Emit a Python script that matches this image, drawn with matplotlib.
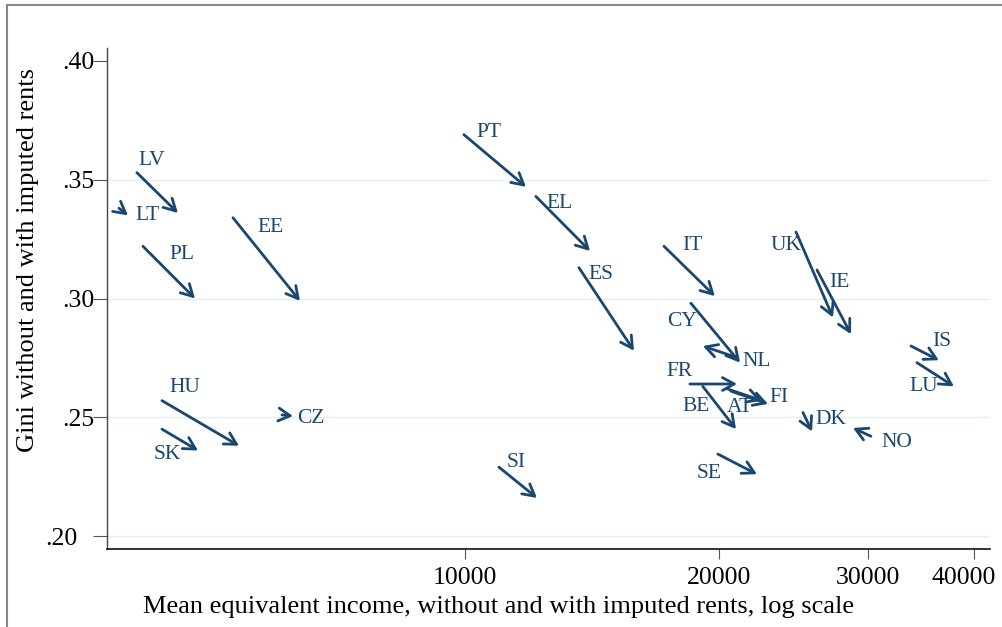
import numpy as np
import matplotlib
matplotlib.use("Agg")
import matplotlib.pyplot as plt
from matplotlib.lines import Line2D
from matplotlib.transforms import ScaledTranslation

plt.rcParams['font.family'] = ['Liberation Serif', 'DejaVu Serif']

# country codes, income (no rents -> with rents), gini (no rents -> with rents)
countries = ["LV", "LT", "PL", "EE", "HU", "SK", "CZ", "PT", "EL", "ES", "SI",
             "IT", "UK", "IE", "CY", "NL", "FR", "AT", "FI", "BE", "DK", "NO",
             "SE", "IS", "LU"]
inc_without = [4090, 3895, 4158, 5314, 4379, 4379, 6073, 9970, 12130, 13640, 10970,
               17200, 24650, 26100, 18510, 21040, 18460, 20420, 20640, 19120, 25120, 30230,
               19920, 33720, 34270]
inc_with = [4574, 3992, 4792, 6378, 5402, 4831, 6259, 11810, 14060, 15850, 12170,
            19760, 27260, 28630, 21160, 19120, 20990, 22460, 22840, 20930, 25750, 28790,
            22160, 36380, 37900]
gini_without = [.353, .338, .322, .334, .257, .245, .251, .369, .343, .313, .229,
                .322, .328, .312, .298, .275, .264, .262, .261, .263, .252, .242,
                .2345, .280, .273]
gini_with = [.336, .335, .300, .299, .238, .236, .2505, .347, .320, .278, .216,
             .301, .292, .285, .273, .280, .264, .257, .2556, .245, .244, .2455,
             .226, .274, .263]

xticks = [10000, 20000, 30000, 40000]
yticks = [.20, .25, .30, .35, .40]

# label offsets from arrow start, in pixels
lab_off = {"LV": (2, 12), "LT": (16, -7), "PL": (26, -8), "EE": (24, -10),
           "HU": (7, 13), "SK": (-8, -25), "CZ": (15, -4), "PT": (13, 2),
           "EL": (11, -7), "ES": (10, -7), "SI": (8, 5), "IT": (18, 1),
           "UK": (-25, -14), "IE": (12, -13), "CY": (-24, -18), "NL": (5, -4),
           "FR": (-23, 13), "AT": (0, -19), "FI": (39, -6), "BE": (-20, -20),
           "DK": (12, -7), "NO": (11, -6), "SE": (-21, -19), "IS": (21, 5),
           "LU": (-8, -24)}

navy = "#1a476f"

fig = plt.figure(figsize=(10.03, 6.27), dpi=100)
ax = fig.add_axes([107/1003, 1 - 549/627, (990 - 107)/1003, (549 - 48)/627])

ax.set_xscale("log")
ax.set_xlim(3770, 41820)
ax.set_ylim(0.19453, 0.40547)

for yv in yticks[:-1]:
    ax.axhline(yv, color="#e6eef0", lw=1.0, zorder=0)

for i, c in enumerate(countries):
    ax.annotate("", xy=(inc_with[i], gini_with[i]), xytext=(inc_without[i], gini_without[i]),
                arrowprops=dict(arrowstyle="->,head_length=0.6,head_width=0.33",
                                color=navy, lw=2.0, shrinkA=0, shrinkB=0,
                                mutation_scale=14))
    dx, dy = lab_off[c]
    ax.annotate(c, xy=(inc_without[i], gini_without[i]), xytext=(dx, dy),
                textcoords="offset pixels", ha="left", va="center",
                color=navy, fontsize=15.5)

ax.set_xticks(xticks)
ax.set_xticklabels([str(v) for v in xticks])
ax.xaxis.set_minor_locator(matplotlib.ticker.NullLocator())
ax.set_yticks(yticks)
ax.set_yticklabels([("%.2f" % v)[1:] for v in yticks])

ax.tick_params(axis="x", length=7, width=0.8, color="#555555", pad=6, labelsize=18.5)
ax.tick_params(axis="y", length=10, width=0.8, color="#555555", pad=-1, labelsize=18.5)

for s in ["top", "right"]:
    ax.spines[s].set_visible(False)
ax.spines["left"].set_color("#444444")
ax.spines["bottom"].set_color("#111111")
ax.spines["left"].set_linewidth(1.0)
ax.spines["bottom"].set_linewidth(1.2)

# Stata puts the lowest y label further out
lab0 = ax.get_yticklabels()[0]
lab0.set_transform(lab0.get_transform() + ScaledTranslation(-17/100, 0, fig.dpi_scale_trans))
# and keeps the last x label inside the graph
labx = ax.get_xticklabels()[-1]
labx.set_transform(labx.get_transform() + ScaledTranslation(-10/100, 0, fig.dpi_scale_trans))

fig.text(28/1003, 1 - 260/627, "Gini without and with imputed rents", rotation=90,
         ha="center", va="center", fontsize=19)
fig.text(499/1003, 1 - 607/627,
         "Mean equivalent income, without and with imputed rents, log scale",
         ha="center", va="center", fontsize=19)

# outer frame
fig.add_artist(Line2D([7/1003, 1.0], [1 - 5/627, 1 - 5/627], transform=fig.transFigure,
                      color="#888888", lw=1.5))
fig.add_artist(Line2D([7/1003, 7/1003], [0.0, 1 - 5/627], transform=fig.transFigure,
                      color="#888888", lw=1.5))

fig.savefig("out.png", dpi=100, facecolor="white")
